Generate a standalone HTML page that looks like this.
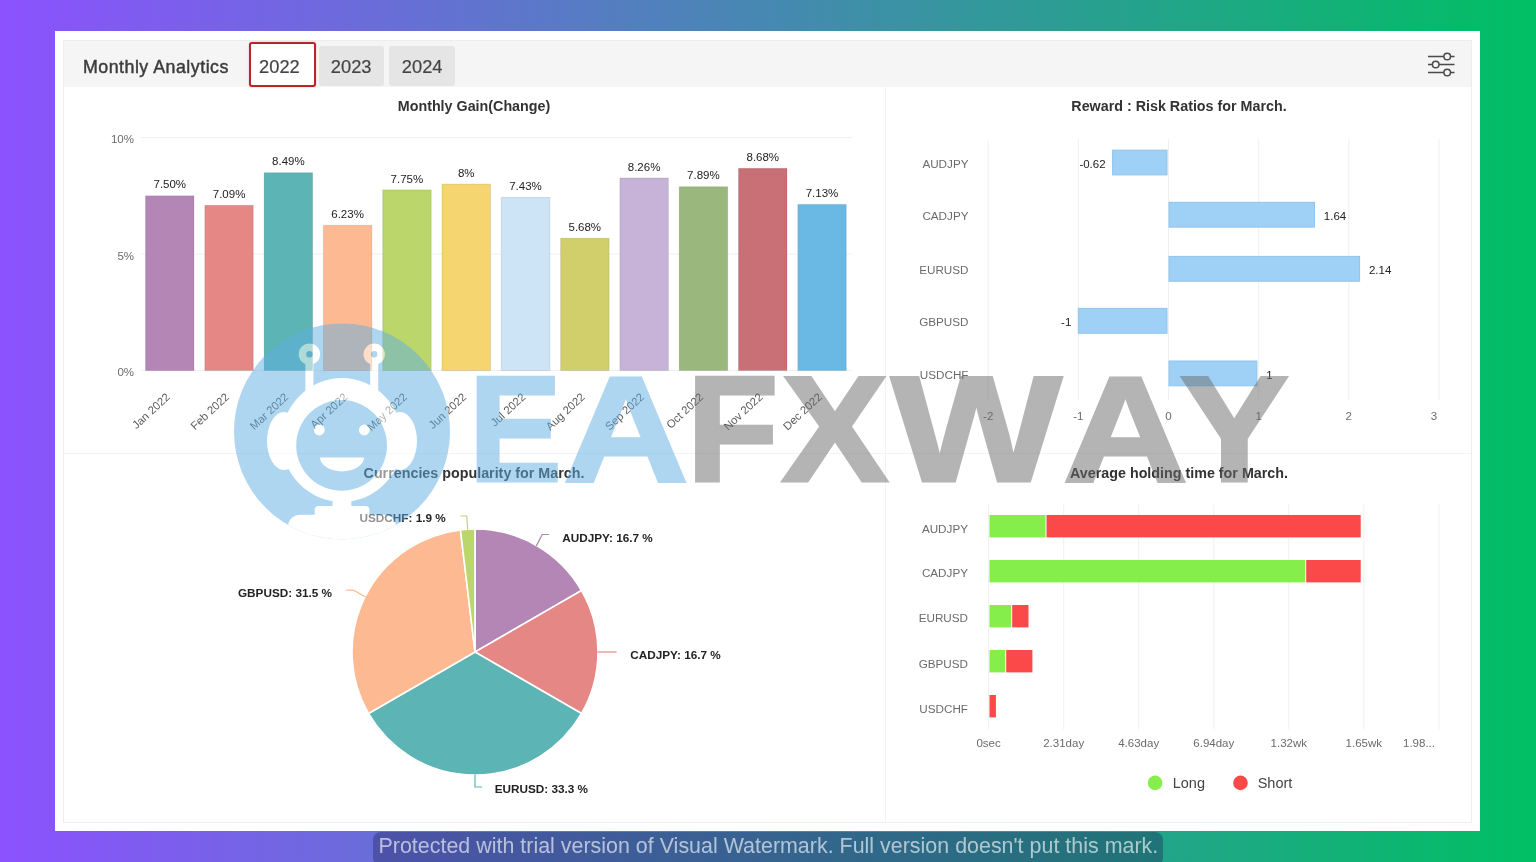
<!DOCTYPE html>
<html lang="en">
<head>
<meta charset="utf-8">
<title>Monthly Analytics</title>
<style>
html,body{margin:0;padding:0;}
body{width:1536px;height:862px;overflow:hidden;position:relative;font-family:"Liberation Sans", Arial, sans-serif;
background:linear-gradient(90deg,#8c52ff 0%,#00bf63 100%);}
.card{position:absolute;left:55px;top:31px;width:1425px;height:799.5px;background:#ffffff;}
.panel{position:absolute;left:8px;top:9px;right:8px;bottom:8px;border:1px solid #ededed;background:#fff;box-sizing:border-box;}
.head{filter:blur(0.4px);position:absolute;left:0;top:0;right:0;height:46px;background:#f5f5f5;}
.head h1{position:absolute;left:19px;top:0;margin:0;font-size:17.8px;line-height:52px;font-weight:400;color:#3c3c3c;letter-spacing:0.5px;-webkit-text-stroke:0.45px #3c3c3c;white-space:nowrap;}
.tab{position:absolute;top:5px;height:40.4px;box-sizing:border-box;font-size:18.3px;line-height:41.6px;text-align:center;color:#444;background:#e5e5e5;border-radius:3px;-webkit-text-stroke:0.2px #444;}
.tab.on{top:1px;height:44.5px;line-height:46.4px;background:#fff;border:2.4px solid #b8252b;border-radius:3px;box-shadow:0 0 1.5px rgba(255,80,80,0.6);}
.vdiv{position:absolute;left:821px;top:46px;bottom:0;width:1px;background:#f3f3f3;}
.hdiv{position:absolute;left:0;right:0;top:412px;height:1px;background:#f3f3f3;}
svg{position:absolute;left:0;top:0;}
svg text{font-family:"Liberation Sans", Arial, sans-serif;}
.ax{font-size:11.5px;fill:#6b6b6b;}
.cat{font-size:11.7px;}
.xl{font-size:11.3px;fill:#5c5c5c;}
.val{font-size:11.5px;fill:#222;}
.ttl{font-size:14.3px;font-weight:700;fill:#333;}
.pl{font-size:11.75px;font-weight:700;fill:#222;}
.lg{font-size:14.5px;fill:#444;}
.wm text{font-weight:700;stroke-linejoin:miter;}
.note{position:absolute;left:373px;top:831.5px;width:789.5px;height:34px;border-radius:8px;background:rgba(30,40,90,0.38);
color:rgba(255,255,255,0.62);font-size:21.4px;line-height:29px;white-space:nowrap;overflow:hidden;letter-spacing:0.02px;}
.note span{position:absolute;left:5.5px;top:0;display:inline-block;transform-origin:0 0;}
</style>
</head>
<body>
<div class="card">
  <div class="panel">
    <div class="head">
      <h1>Monthly Analytics</h1>
      <div class="tab on" style="left:185.4px;width:66.5px;padding-right:6.5px;">2022</div>
      <div class="tab" style="left:254.5px;width:65.3px;">2023</div>
      <div class="tab" style="left:325px;width:66.3px;">2024</div>
      <svg width="40" height="46" viewBox="0 0 40 46" style="left:auto;right:9.4px;top:-1.4px;" fill="none" stroke="#4a4a4a" stroke-width="1.5">
        <path d="M6,16.5 H21.9 M28.5,16.5 H32.5 M6,24.5 H10.4 M17,24.5 H32.5 M6,32.5 H21.9 M28.5,32.5 H32.5"/>
        <circle cx="25.2" cy="16.5" r="3.3"/><circle cx="13.7" cy="24.5" r="3.3"/><circle cx="25.2" cy="32.5" r="3.3"/>
      </svg>
    </div>
    <div class="vdiv"></div>
    <div class="hdiv"></div>
  </div>
</div>
<svg width="1536" height="862" viewBox="0 0 1536 862">
<defs><filter id="soft" x="0" y="0" width="100%" height="100%" filterUnits="userSpaceOnUse"><feGaussianBlur stdDeviation="0.45"/></filter></defs>
<g id="charts" filter="url(#soft)">
<g id="monthly-gain">
<line x1="141" y1="137.5" x2="852" y2="137.5" stroke="#f0f0f0" stroke-width="1"/>
<text x="134" y="143.0" text-anchor="end" class="ax">10%</text>
<line x1="141" y1="254.0" x2="852" y2="254.0" stroke="#f0f0f0" stroke-width="1"/>
<text x="134" y="259.5" text-anchor="end" class="ax">5%</text>
<line x1="141" y1="370.5" x2="852" y2="370.5" stroke="#f0f0f0" stroke-width="1"/>
<text x="134" y="376.0" text-anchor="end" class="ax">0%</text>
<rect x="145.5" y="195.8" width="48.5" height="174.8" fill="#b386b6" stroke="rgba(0,0,0,0.10)" stroke-width="1"/>
<text x="169.8" y="188.3" text-anchor="middle" class="val">7.50%</text>
<text transform="translate(170.6,397.9) rotate(-43)" text-anchor="end" class="ax xl">Jan 2022</text>
<rect x="204.8" y="205.3" width="48.5" height="165.2" fill="#e48785" stroke="rgba(0,0,0,0.10)" stroke-width="1"/>
<text x="229.1" y="197.9" text-anchor="middle" class="val">7.09%</text>
<text transform="translate(229.9,397.9) rotate(-43)" text-anchor="end" class="ax xl">Feb 2022</text>
<rect x="264.1" y="172.7" width="48.5" height="197.8" fill="#5cb4b4" stroke="rgba(0,0,0,0.10)" stroke-width="1"/>
<text x="288.4" y="165.3" text-anchor="middle" class="val">8.49%</text>
<text transform="translate(289.2,397.9) rotate(-43)" text-anchor="end" class="ax xl">Mar 2022</text>
<rect x="323.4" y="225.3" width="48.5" height="145.2" fill="#fdba92" stroke="rgba(0,0,0,0.10)" stroke-width="1"/>
<text x="347.6" y="217.9" text-anchor="middle" class="val">6.23%</text>
<text transform="translate(348.4,397.9) rotate(-43)" text-anchor="end" class="ax xl">Apr 2022</text>
<rect x="382.7" y="189.9" width="48.5" height="180.6" fill="#bbd66b" stroke="rgba(0,0,0,0.10)" stroke-width="1"/>
<text x="406.9" y="182.5" text-anchor="middle" class="val">7.75%</text>
<text transform="translate(407.8,397.9) rotate(-43)" text-anchor="end" class="ax xl">May 2022</text>
<rect x="442.0" y="184.1" width="48.5" height="186.4" fill="#f4d570" stroke="rgba(0,0,0,0.10)" stroke-width="1"/>
<text x="466.2" y="176.7" text-anchor="middle" class="val">8%</text>
<text transform="translate(467.1,397.9) rotate(-43)" text-anchor="end" class="ax xl">Jun 2022</text>
<rect x="501.3" y="197.4" width="48.5" height="173.1" fill="#cde4f7" stroke="rgba(0,0,0,0.10)" stroke-width="1"/>
<text x="525.5" y="190.0" text-anchor="middle" class="val">7.43%</text>
<text transform="translate(526.3,397.9) rotate(-43)" text-anchor="end" class="ax xl">Jul 2022</text>
<rect x="560.6" y="238.2" width="48.5" height="132.3" fill="#d1ce6c" stroke="rgba(0,0,0,0.10)" stroke-width="1"/>
<text x="584.8" y="230.8" text-anchor="middle" class="val">5.68%</text>
<text transform="translate(585.6,397.9) rotate(-43)" text-anchor="end" class="ax xl">Aug 2022</text>
<rect x="619.9" y="178.0" width="48.5" height="192.5" fill="#c7b3d7" stroke="rgba(0,0,0,0.10)" stroke-width="1"/>
<text x="644.1" y="170.6" text-anchor="middle" class="val">8.26%</text>
<text transform="translate(644.9,397.9) rotate(-43)" text-anchor="end" class="ax xl">Sep 2022</text>
<rect x="679.2" y="186.7" width="48.5" height="183.8" fill="#9ab87e" stroke="rgba(0,0,0,0.10)" stroke-width="1"/>
<text x="703.4" y="179.3" text-anchor="middle" class="val">7.89%</text>
<text transform="translate(704.2,397.9) rotate(-43)" text-anchor="end" class="ax xl">Oct 2022</text>
<rect x="738.5" y="168.3" width="48.5" height="202.2" fill="#c86f74" stroke="rgba(0,0,0,0.10)" stroke-width="1"/>
<text x="762.8" y="160.9" text-anchor="middle" class="val">8.68%</text>
<text transform="translate(763.5,397.9) rotate(-43)" text-anchor="end" class="ax xl">Nov 2022</text>
<rect x="797.8" y="204.4" width="48.5" height="166.1" fill="#6ab9e4" stroke="rgba(0,0,0,0.10)" stroke-width="1"/>
<text x="822.0" y="197.0" text-anchor="middle" class="val">7.13%</text>
<text transform="translate(822.8,397.9) rotate(-43)" text-anchor="end" class="ax xl">Dec 2022</text>
<text x="474" y="111" text-anchor="middle" class="ttl">Monthly Gain(Change)</text>
</g>
<g id="reward-risk">
<line x1="988.2" y1="139" x2="988.2" y2="400" stroke="#efefef" stroke-width="1"/>
<text x="988.2" y="420" text-anchor="middle" class="ax">-2</text>
<line x1="1078.3" y1="139" x2="1078.3" y2="400" stroke="#efefef" stroke-width="1"/>
<text x="1078.3" y="420" text-anchor="middle" class="ax">-1</text>
<line x1="1168.5" y1="139" x2="1168.5" y2="400" stroke="#efefef" stroke-width="1"/>
<text x="1168.5" y="420" text-anchor="middle" class="ax">0</text>
<line x1="1258.7" y1="139" x2="1258.7" y2="400" stroke="#efefef" stroke-width="1"/>
<text x="1258.7" y="420" text-anchor="middle" class="ax">1</text>
<line x1="1348.8" y1="139" x2="1348.8" y2="400" stroke="#efefef" stroke-width="1"/>
<text x="1348.8" y="420" text-anchor="middle" class="ax">2</text>
<line x1="1439.0" y1="139" x2="1439.0" y2="400" stroke="#efefef" stroke-width="1"/>
<text x="1434.0" y="420" text-anchor="middle" class="ax">3</text>
<rect x="1112.6" y="150.1" width="54.4" height="24.8" fill="#9fd0f5" stroke="#8fc4ee" stroke-width="1"/>
<text x="968.5" y="167.7" text-anchor="end" class="ax cat">AUDJPY</text>
<text x="1105.6" y="167.9" text-anchor="end" class="val">-0.62</text>
<rect x="1169.0" y="202.3" width="145.5" height="24.8" fill="#9fd0f5" stroke="#8fc4ee" stroke-width="1"/>
<text x="968.5" y="219.9" text-anchor="end" class="ax cat">CADJPY</text>
<text x="1323.8" y="220.1" class="val">1.64</text>
<rect x="1169.0" y="256.4" width="190.6" height="24.8" fill="#9fd0f5" stroke="#8fc4ee" stroke-width="1"/>
<text x="968.5" y="274.0" text-anchor="end" class="ax cat">EURUSD</text>
<text x="1368.9" y="274.2" class="val">2.14</text>
<rect x="1078.3" y="308.4" width="88.7" height="24.8" fill="#9fd0f5" stroke="#8fc4ee" stroke-width="1"/>
<text x="968.5" y="326.0" text-anchor="end" class="ax cat">GBPUSD</text>
<text x="1071.3" y="326.2" text-anchor="end" class="val">-1</text>
<rect x="1169.0" y="361.0" width="87.9" height="24.8" fill="#9fd0f5" stroke="#8fc4ee" stroke-width="1"/>
<text x="968.5" y="378.6" text-anchor="end" class="ax cat">USDCHF</text>
<text x="1266.2" y="378.8" class="val">1</text>
<text x="1179" y="111" text-anchor="middle" class="ttl">Reward : Risk Ratios for March.</text>
</g>
<g id="currencies">
<path d="M475.0,652.0 L475.00,529.00 A123.0,123.0 0 0 1 581.52,590.50 Z" fill="#b386b6" stroke="#ffffff" stroke-width="1.6" stroke-linejoin="round"/>
<path d="M475.0,652.0 L581.52,590.50 A123.0,123.0 0 0 1 581.52,713.50 Z" fill="#e48785" stroke="#ffffff" stroke-width="1.6" stroke-linejoin="round"/>
<path d="M475.0,652.0 L581.52,713.50 A123.0,123.0 0 0 1 368.48,713.50 Z" fill="#5cb4b4" stroke="#ffffff" stroke-width="1.6" stroke-linejoin="round"/>
<path d="M475.0,652.0 L368.48,713.50 A123.0,123.0 0 0 1 460.44,529.87 Z" fill="#fdba92" stroke="#ffffff" stroke-width="1.6" stroke-linejoin="round"/>
<path d="M475.0,652.0 L460.44,529.87 A123.0,123.0 0 0 1 475.00,529.00 Z" fill="#bbd66b" stroke="#ffffff" stroke-width="1.6" stroke-linejoin="round"/>
<polyline points="536.3,545.9 542.2,534.5 549,534.5" fill="none" stroke="#a08ca2" stroke-width="1.2"/>
<polyline points="597.5,652 616.5,652" fill="none" stroke="#e48785" stroke-width="1.2"/>
<polyline points="475,774.5 475,787 482,787" fill="none" stroke="#5cb4b4" stroke-width="1.2"/>
<polyline points="365.5,597.1 353.6,590.2 346.2,590.2" fill="none" stroke="#fdba92" stroke-width="1.2"/>
<polyline points="467.7,529.7 466.8,516 460.5,516" fill="none" stroke="#bbd66b" stroke-width="1.2"/>
<text x="562.2" y="541.5" text-anchor="start" class="pl">AUDJPY: 16.7 %</text>
<text x="630.2" y="658.5" text-anchor="start" class="pl">CADJPY: 16.7 %</text>
<text x="494.7" y="793.3" text-anchor="start" class="pl">EURUSD: 33.3 %</text>
<text x="332" y="597" text-anchor="end" class="pl">GBPUSD: 31.5 %</text>
<text x="445.7" y="522.3" text-anchor="end" class="pl">USDCHF: 1.9 %</text>
<text x="474" y="477.8" text-anchor="middle" class="ttl">Currencies popularity for March.</text>
</g>
<g id="holding">
<line x1="988.6" y1="504.5" x2="988.6" y2="729.5" stroke="#f0f0f0" stroke-width="1"/>
<text x="988.6" y="747" text-anchor="middle" class="ax">0sec</text>
<line x1="1063.7" y1="504.5" x2="1063.7" y2="729.5" stroke="#f0f0f0" stroke-width="1"/>
<text x="1063.7" y="747" text-anchor="middle" class="ax">2.31day</text>
<line x1="1138.7" y1="504.5" x2="1138.7" y2="729.5" stroke="#f0f0f0" stroke-width="1"/>
<text x="1138.7" y="747" text-anchor="middle" class="ax">4.63day</text>
<line x1="1213.8" y1="504.5" x2="1213.8" y2="729.5" stroke="#f0f0f0" stroke-width="1"/>
<text x="1213.8" y="747" text-anchor="middle" class="ax">6.94day</text>
<line x1="1288.8" y1="504.5" x2="1288.8" y2="729.5" stroke="#f0f0f0" stroke-width="1"/>
<text x="1288.8" y="747" text-anchor="middle" class="ax">1.32wk</text>
<line x1="1363.8" y1="504.5" x2="1363.8" y2="729.5" stroke="#f0f0f0" stroke-width="1"/>
<text x="1363.8" y="747" text-anchor="middle" class="ax">1.65wk</text>
<line x1="1438.9" y1="504.5" x2="1438.9" y2="729.5" stroke="#f0f0f0" stroke-width="1"/>
<text x="1435" y="747" text-anchor="end" class="ax">1.98...</text>
<rect x="989.5" y="515.0" width="56.0" height="22.4" fill="#86ee4c"/>
<rect x="1046.5" y="515.0" width="314.2" height="22.4" fill="#fb4a4a"/>
<text x="968" y="532.8" text-anchor="end" class="ax cat">AUDJPY</text>
<rect x="989.5" y="560.0" width="315.7" height="22.4" fill="#86ee4c"/>
<rect x="1306.2" y="560.0" width="54.5" height="22.4" fill="#fb4a4a"/>
<text x="968" y="576.5" text-anchor="end" class="ax cat">CADJPY</text>
<rect x="989.5" y="605.0" width="21.7" height="22.4" fill="#86ee4c"/>
<rect x="1012.2" y="605.0" width="16.3" height="22.4" fill="#fb4a4a"/>
<text x="968" y="622.2" text-anchor="end" class="ax cat">EURUSD</text>
<rect x="989.5" y="650.0" width="15.7" height="22.4" fill="#86ee4c"/>
<rect x="1006.2" y="650.0" width="26.2" height="22.4" fill="#fb4a4a"/>
<text x="968" y="667.6" text-anchor="end" class="ax cat">GBPUSD</text>
<rect x="989.5" y="695.0" width="6.4" height="22.4" fill="#fb4a4a"/>
<text x="968" y="713.2" text-anchor="end" class="ax cat">USDCHF</text>
<circle cx="1155.1" cy="782.9" r="7.3" fill="#86ee4c"/>
<text x="1172.7" y="788" class="lg">Long</text>
<circle cx="1240.5" cy="782.9" r="7.3" fill="#fb4a4a"/>
<text x="1257.7" y="788" class="lg">Short</text>
<text x="1179" y="478" text-anchor="middle" class="ttl">Average holding time for March.</text>
</g>
</g>
<g id="watermark">
<g opacity="0.5">
<defs><clipPath id="wmclip"><circle cx="342" cy="431.4" r="108"/></clipPath></defs>
<circle cx="342" cy="431.4" r="108" fill="#61ade1"/>
<g clip-path="url(#wmclip)" fill="#ffffff">
<path fill-rule="evenodd" d="M298.7,354.2 a10.7,10.7 0 1 0 21.4,0 a10.7,10.7 0 1 0 -21.4,0 Z M306.2,354.2 a3.2,3.2 0 1 1 6.4,0 a3.2,3.2 0 1 1 -6.4,0 Z"/>
<rect x="305.4" y="363" width="8" height="30"/>
<path fill-rule="evenodd" d="M363.5,354.2 a10.7,10.7 0 1 0 21.4,0 a10.7,10.7 0 1 0 -21.4,0 Z M371.0,354.2 a3.2,3.2 0 1 1 6.4,0 a3.2,3.2 0 1 1 -6.4,0 Z"/>
<rect x="370.2" y="363" width="8" height="30"/>
<ellipse cx="284" cy="441" rx="17" ry="29"/>
<ellipse cx="400" cy="441" rx="17" ry="29"/>
<rect x="332.6" y="488" width="18.7" height="20"/>
<ellipse cx="342" cy="440" rx="60.5" ry="62"/>
<circle cx="341.6" cy="445.4" r="45.4" fill="#61ade1"/>
<circle cx="319.3" cy="430" r="5.4"/><circle cx="364.3" cy="430" r="5.4"/>
<path d="M320,457.4 H364 A22,14 0 0 1 320,457.4 Z"/>
<rect x="314.7" y="506" width="54.7" height="14" rx="4"/>
<rect x="288" y="514.8" width="108" height="40" rx="12"/>
</g>
</g>
<g opacity="0.5" class="wm">
<text y="481.3" font-size="151.0" stroke-width="3.0"><tspan fill="#61ade1" stroke="#61ade1"><tspan x="468.7" textLength="93.0" lengthAdjust="spacingAndGlyphs">E</tspan><tspan x="563.0" textLength="125.7" lengthAdjust="spacingAndGlyphs">A</tspan></tspan><tspan fill="#6a6a6a" stroke="#6a6a6a"><tspan x="686.6" textLength="92.2" lengthAdjust="spacingAndGlyphs">F</tspan><tspan x="781.5" textLength="106.7" lengthAdjust="spacingAndGlyphs">X</tspan><tspan x="891.3" textLength="170.4" lengthAdjust="spacingAndGlyphs">W</tspan><tspan x="1062.7" textLength="125.4" lengthAdjust="spacingAndGlyphs">A</tspan><tspan x="1179.7" textLength="109.1" lengthAdjust="spacingAndGlyphs">Y</tspan></tspan></text>
</g>
</g>
</svg>
<div class="note"><span>Protected with trial version of Visual Watermark. Full version doesn't put this mark.</span></div>
</body>
</html>
